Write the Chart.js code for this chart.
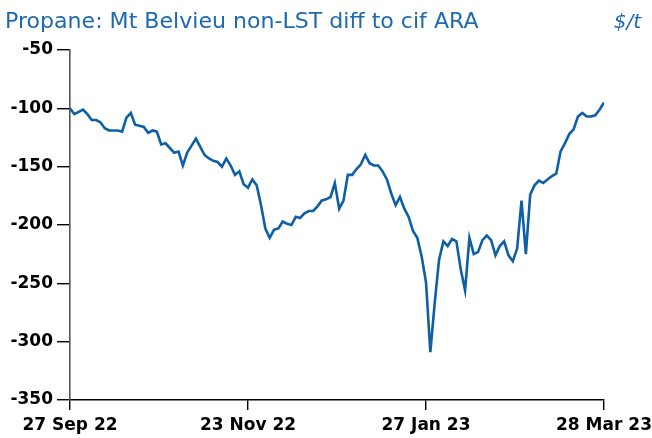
<!DOCTYPE html>
<html>
<head>
<meta charset="utf-8">
<script src="https://cdn.jsdelivr.net/npm/chart.js@4"></script>
<style>
  html, body { margin: 0; padding: 0; background: #fff; }
  #wrap { width: 652px; height: 438px; }
</style>
</head>
<body>
<div id="wrap"><canvas id="chart"></canvas></div>
<script>
const title = "Propane: Mt Belvieu non-LST diff to cif ARA";
const unit = "$/t";
const tickLabels = ["27 Sep 22", "23 Nov 22", "27 Jan 23", "28 Mar 23"];
const tickEvery = 41;

// daily spread, $/t
const values = [
  -100, -105, -103, -101, -105, -110, -110, -112, -117, -119,
  -119, -119, -120, -108, -104, -114, -115, -116, -121, -119,
  -120, -131, -130, -134, -138, -137, -149, -138, -132, -126,
  -133, -140, -143, -145, -146, -150, -143, -149, -157, -154,
  -165, -168, -161, -166, -183, -203, -211, -204, -203, -197,
  -199, -200, -193, -194, -190, -188, -188, -184, -179, -178,
  -176, -164, -186, -179, -157, -157, -152, -148, -140, -147,
  -149, -149, -154, -161, -173, -183, -176, -186, -193, -205,
  -211, -227, -249, -309, -267, -230, -214, -218, -212, -214,
  -238, -256, -211, -225, -223, -213, -209, -213, -226, -218,
  -214, -226, -231, -220, -179, -225, -174, -166, -162, -164,
  -161, -158, -156, -137, -130, -122, -118, -107, -104, -107,
  -107, -106, -101, -95
];

const idx = values.map((v, i) => i);
const blue = "#0d5fa6";

const headerPlugin = {
  id: "header",
  afterDraw(chart) {
    const ctx = chart.ctx;
    ctx.save();
    ctx.fillStyle = "#1d69b2";
    ctx.textBaseline = "alphabetic";
    let size = 20;
    ctx.font = size + "px 'DejaVu Sans'";
    const w = ctx.measureText(title).width;
    size = size * 474 / w;
    ctx.font = size + "px 'DejaVu Sans'";
    ctx.textAlign = "left";
    ctx.fillText(title, 5, 28);
    ctx.font = "italic 20px 'DejaVu Sans'";
    ctx.textAlign = "right";
    ctx.fillText(unit, 641, 28);
    ctx.restore();
  }
};

new Chart(document.getElementById("chart"), {
  type: "line",
  data: {
    labels: idx,
    datasets: [{
      data: values,
      borderColor: blue,
      borderWidth: 2.6,
      pointRadius: 0,
      tension: 0,
      fill: false
    }]
  },
  options: {
    responsive: true,
    maintainAspectRatio: false,
    animation: false,
    layout: { padding: { top: 50, right: 48, left: 0, bottom: 0 } },
    plugins: { legend: { display: false }, tooltip: { enabled: false } },
    scales: {
      x: {
        type: "linear",
        min: 0,
        max: values.length - 1,
        afterFit: s => { s.height = 38; s.paddingLeft = 0; s.paddingRight = 0; },
        afterBuildTicks: s => {
          s.ticks = tickLabels.map((t, i) => ({ value: i * tickEvery }));
        },
        ticks: {
          autoSkip: false,
          maxRotation: 0,
          padding: 5,
          color: "#000",
          font: { family: "'DejaVu Sans'", size: 17, weight: "bold" },
          callback: v => tickLabels[Math.round(v / tickEvery)]
        },
        grid: { drawOnChartArea: false, tickLength: 10, color: "#000", lineWidth: 1.4 },
        border: { color: "#000", width: 1.4 }
      },
      y: {
        min: -350,
        max: -50,
        afterFit: s => { s.width = 70; s.paddingTop = 0; s.paddingBottom = 0; },
        ticks: {
          stepSize: 50,
          padding: 4,
          color: "#000",
          font: { family: "'DejaVu Sans'", size: 17, weight: "bold" }
        },
        grid: { drawOnChartArea: false, tickLength: 13, color: "#000", lineWidth: 1.4 },
        border: { color: "#555", width: 1.6 }
      }
    }
  },
  plugins: [headerPlugin]
});
</script>
</body>
</html>
